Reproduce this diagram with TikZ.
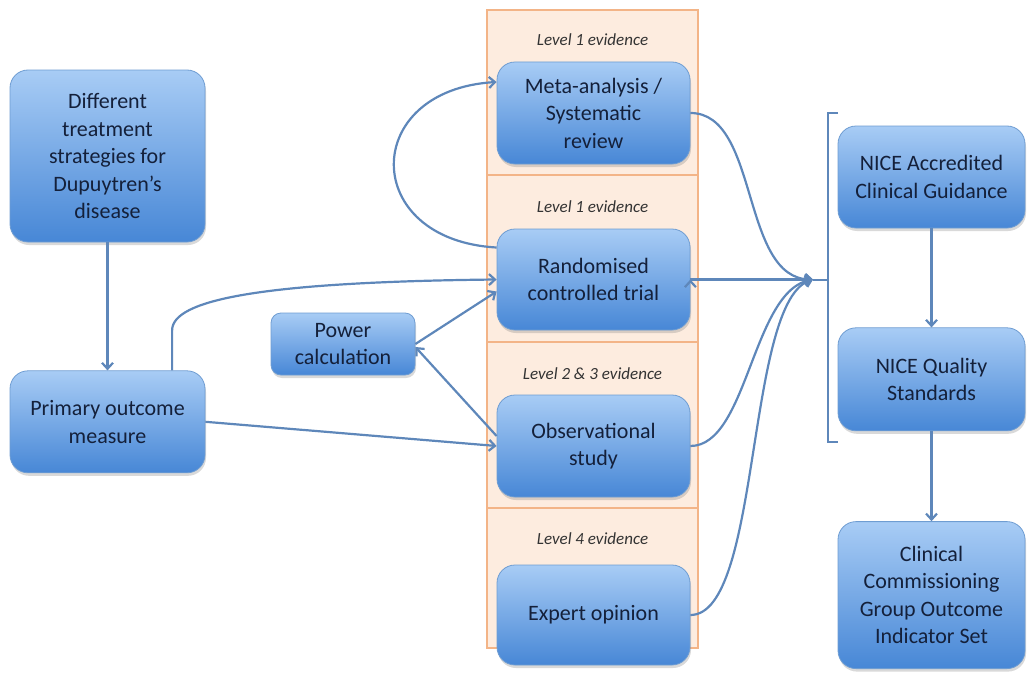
\documentclass[tikz,border=0pt]{standalone}
\usepackage{fontspec}
\setmainfont{Carlito}
\usetikzlibrary{arrows.meta}
\usetikzlibrary{calc}
\usetikzlibrary{shadows}
\usetikzlibrary{positioning}

\definecolor{boxtop}{HTML}{A8CCF5}
\definecolor{boxbot}{HTML}{4787D6}
\definecolor{boxline}{HTML}{6F9DD2}
\definecolor{textnavy}{HTML}{14203A}
\definecolor{arrowblue}{HTML}{5E87BA}
\definecolor{panelfill}{HTML}{FDECDF}
\definecolor{panelline}{HTML}{F3B487}

\tikzset{
  stage/.style={rectangle, rounded corners=18pt, draw=boxline, line width=0.8pt,
    top color=boxtop, bottom color=boxbot, text=textnavy, align=center,
    font=\fontsize{22}{27.5}\selectfont, inner sep=0pt,
    drop shadow={shadow xshift=1pt, shadow yshift=-3pt, opacity=0.3}},
  level/.style={font=\fontsize{17}{19}\selectfont\itshape, text=black!80},
  flow/.style={-{Straight Barb[length=6pt,width=11pt]}, draw=arrowblue, line width=2.2pt},
}

\begin{document}
\begin{tikzpicture}[x=1pt, y=-1pt]
        \useasboundingbox (0,0) rectangle (1027,677);

        % evidence column
        \filldraw[fill=panelfill, draw=panelline, line width=1.2pt] (487,10) rectangle (698,648);
        \draw[panelline, line width=1.2pt] (487,175) -- (698,175);
        \draw[panelline, line width=1.2pt] (487,342) -- (698,342);
        \draw[panelline, line width=1.2pt] (487,508) -- (698,508);

        \node[level] (lvla) at (592.5,40) {Level 1 evidence};
        \node[level] (lvlb) at (592.5,207) {Level 1 evidence};
        \node[level] (lvlc) at (592.5,374) {Level 2 \& 3 evidence};
        \node[level] (lvld) at (592.5,539) {Level 4 evidence};

        \node[stage, minimum width=193pt, minimum height=102pt] (meta) at (593.5,113) {Meta-analysis /\\Systematic\\review};
        \node[stage, minimum width=193pt, minimum height=101pt] (rct) at (593.5,279.5) {Randomised\\controlled trial};
        \node[stage, minimum width=193pt, minimum height=102pt] (obs) at (593.5,446) {Observational\\study};
        \node[stage, minimum width=193pt, minimum height=100pt] (expert) at (593.5,615) {Expert opinion};

        % left side
        \node[stage, minimum width=195pt, minimum height=172pt] (diff) at (107.5,156) {Different\\treatment\\strategies for\\Dupuytren’s\\disease};
        \node[stage, minimum width=195pt, minimum height=102pt, below=128pt of diff] (primary) {Primary outcome\\measure};
        \node[stage, rounded corners=10pt, minimum width=144pt, minimum height=62pt] (power) at (343,344) {Power\\calculation};

        % right side
        \node[stage, minimum width=187pt, minimum height=102pt] (nicecg) at (931.5,177) {NICE Accredited\\Clinical Guidance};
        \node[stage, minimum width=187pt, minimum height=103pt, below=99pt of nicecg] (niceqs) {NICE Quality\\Standards};
        \node[stage, minimum width=187pt, minimum height=147pt, below=90pt of niceqs] (ccg) {Clinical\\Commissioning\\Group Outcome\\Indicator Set};

        % bracket and hub
        \coordinate (hub) at (813,279.5);
        \draw[arrowblue, line width=2pt] (838,113) -| (828,442) -- (838,442);
        \draw[arrowblue, line width=2pt] (828,279.5) -- (hub);

        \draw[flow] (diff) -- (primary);
        \draw[flow] (nicecg) -- (niceqs);
        \draw[flow] (niceqs) -- (ccg);

        \draw[flow] ($(primary.north west)!0.83!(primary.north east)$) -- ++(0,-40)
            .. controls (172,300) and (260,282) .. (rct.west);
        \draw[flow] (power.east) -- ([yshift=-12pt]rct.west);
        \draw[flow] ([yshift=10pt]obs.west) -- ([yshift=-3pt]power.east);
        \draw[flow] (primary.east) -- (obs.west);
        \draw[flow] ([yshift=32pt]rct.west) .. controls (360,240) and (360,90) .. ([yshift=31pt]meta.west);

        \draw[flow] (meta.east) .. controls (760,113) and (740,279.5) .. (hub);
        \path[flow] (rct.east) edge (hub);
        \draw[flow] (obs.east) .. controls (748,446) and (752,290) .. (hub);
        \draw[flow] (expert.east) .. controls (762,615) and (745,300) .. (hub);
    \end{tikzpicture}
\end{document}
